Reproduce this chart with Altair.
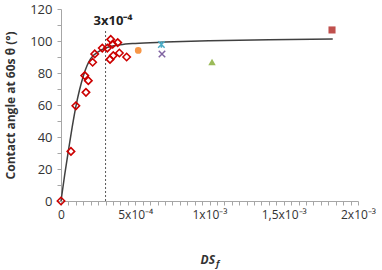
import altair as alt
import pandas as pd

# ---- data ----
red_x = [0, 6.7e-5, 1.0e-4, 1.6e-4, 1.68e-4, 1.84e-4, 2.13e-4, 2.27e-4, 2.78e-4,
         3.12e-4, 3.35e-4, 3.30e-4, 3.52e-4, 3.48e-4, 3.82e-4, 3.93e-4, 4.42e-4]
red_y = [0, 31, 59.5, 78.4, 67.9, 75.2, 86.7, 91.9, 95.6,
         95.6, 101, 88.5, 90.9, 98, 99, 92.5, 90]

other_x = [5.2e-4, 6.76e-4, 6.8e-4, 1.017e-3, 1.825e-3]
other_y = [94.1, 97.8, 91.9, 86.9, 106.9]
other_kind = ["orange", "cyan", "purple", "green", "red"]

curve_x = [0, 2.5e-5, 4.9e-5, 7.5e-5, 1.0e-4, 1.25e-4, 1.5e-4, 1.75e-4, 2.0e-4,
           2.5e-4, 3.0e-4, 4.0e-4, 5.0e-4, 7.0e-4, 1.0e-3, 1.4e-3, 1.83e-3]
curve_y = [0, 16.5, 31, 46, 59, 69.5, 78, 84.5, 89,
           93.2, 95.6, 97.6, 98.5, 99.3, 100.1, 100.8, 101.3]

vline_x = [3e-4]
vline_top = [106.7]
annot_text = ["3x10⁻⁴"]
annot_x = [3.5e-4]
annot_y = [112.5]

x_major = [0, 5e-4, 1e-3, 1.5e-3, 2e-3]
x_labels = ["0", "5x10⁻⁴", "1x10⁻³", "1,5x10⁻³", "2x10⁻³"]
y_major = [0, 20, 40, 60, 80, 100, 120]

# ---- tables ----
red_df = pd.DataFrame({"x": red_x, "y": red_y})
other_df = pd.DataFrame({"x": other_x, "y": other_y, "kind": other_kind})
curve_df = pd.DataFrame({"x": curve_x, "y": curve_y})
vline_df = pd.DataFrame({"x": vline_x, "y": [0], "y2": vline_top})
annot_df = pd.DataFrame({"x": annot_x, "y": annot_y, "t": annot_text})

FONT = "Open Sans"
AXC = "#A6A6A6"
TXT = "#333333"

x_ticks = [round(k * 5e-5, 6) for k in range(41)]
y_ticks = list(range(0, 121, 10))

x_expr = " : ".join(
    [f"abs(datum.value - {v}) < 1e-9 ? '{l}'" for v, l in zip(x_major, x_labels)]
) + " : ''"
y_expr = "indexof([" + ",".join(str(v) for v in y_major) + "], datum.value) >= 0 ? datum.label : ''"

xs = alt.Scale(domain=[0, 0.002], nice=False, zero=False)
ys = alt.Scale(domain=[0, 120], nice=False)

x_axis = alt.Axis(values=x_ticks, labelExpr=x_expr, labelOverlap=False, grid=False,
                  domainColor=AXC, tickColor=AXC, tickSize=4, labelFont=FONT,
                  labelFontSize=12, labelColor=TXT, labelPadding=4, title=None,
                  labelFlush=False)
y_axis = alt.Axis(values=y_ticks, labelExpr=y_expr, labelOverlap=False, grid=False,
                  domainColor=AXC, tickColor=AXC, tickSize=4, labelFont=FONT,
                  labelFontSize=13, labelColor=TXT, labelPadding=5,
                  title="Contact angle at 60s θ (°)", titleFont=FONT, titleFontSize=12,
                  titleFontWeight="bold", titleColor=TXT, titlePadding=12)

X = alt.X("x:Q", scale=xs, axis=x_axis)
Y = alt.Y("y:Q", scale=ys, axis=y_axis)

curve = alt.Chart(curve_df).mark_line(color="#404040", strokeWidth=1.5,
                                      interpolate="monotone").encode(x=X, y=Y)

vline = alt.Chart(vline_df).mark_rule(color="#595959", strokeDash=[2, 2],
                                      strokeWidth=1).encode(x=X, y=Y, y2="y2:Q")

red = alt.Chart(red_df).mark_point(shape="diamond", filled=False, color="#CC0000",
                                   size=55, strokeWidth=1.6, opacity=1).encode(x=X, y=Y)

shape_map = {
    "orange": ("circle", "#F79646", True, 45),
    "cyan": ("M-1,-1L1,1M-1,1L1,-1M0,-1L0,1", "#4BACC6", False, 42),
    "purple": ("M-1,-1L1,1M-1,1L1,-1", "#8064A2", False, 42),
    "green": ("triangle-up", "#9BBB59", True, 55),
    "red": ("square", "#C0504D", True, 50),
}
others = []
for k in other_kind:
    shp, col, fill, sz = shape_map[k]
    others.append(
        alt.Chart(other_df[other_df["kind"] == k]).mark_point(
            shape=shp, filled=fill, color=col, size=sz, opacity=1,
            strokeWidth=1.5).encode(x=X, y=Y)
    )

annot = alt.Chart(annot_df).mark_text(font=FONT, fontSize=13, fontWeight="bold",
                                      color="#222222", baseline="middle").encode(
    x=X, y=Y, text="t:N")

xt1 = alt.Chart(pd.DataFrame({"t": ["DS"]})).mark_text(
    font=FONT, fontSize=12, fontWeight="bold", fontStyle="italic", color=TXT,
    align="right", baseline="middle").encode(
    x=alt.value(154), y=alt.value(251), text="t:N")
xt2 = alt.Chart(pd.DataFrame({"t": ["f"]})).mark_text(
    font=FONT, fontSize=9, fontWeight="bold", fontStyle="italic", color=TXT,
    align="left", baseline="middle").encode(
    x=alt.value(155), y=alt.value(255), text="t:N")

chart = alt.layer(curve, vline, red, *others, annot, xt1, xt2).properties(
    width=297, height=192,
    autosize=alt.AutoSizeParams(type="none"),
    padding={"left": 61, "top": 9, "right": 24, "bottom": 69},
    background="white",
).configure_view(stroke=None)

chart.save("out.html", embed_options={"renderer": "svg", "actions": False})
